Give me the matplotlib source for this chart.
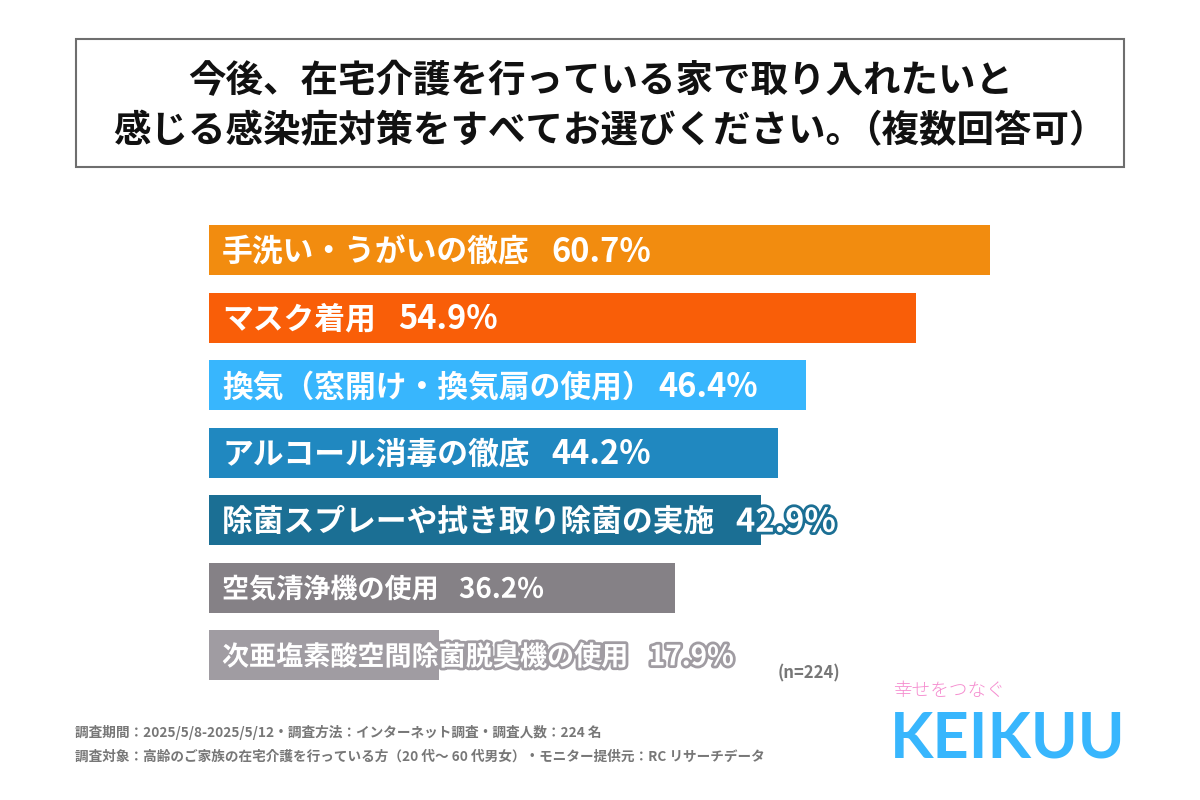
import matplotlib
matplotlib.use('Agg')
import matplotlib.pyplot as plt
import matplotlib.patheffects as pe
from matplotlib.patches import Rectangle

plt.rcParams['font.family'] = ['Noto Sans CJK JP', 'DejaVu Sans']

title_line1 = '今後、在宅介護を行っている家で取り入れたいと'
title_line2 = '感じる感染症対策をすべてお選びください。'
title_note = '（複数回答可）'
labels = ['手洗い・うがいの徹底', 'マスク着用', '換気（窓開け・換気扇の使用）', 'アルコール消毒の徹底',
          '除菌スプレーや拭き取り除菌の実施', '空気清浄機の使用', '次亜塩素酸空間除菌脱臭機の使用']
values = [60.7, 54.9, 46.4, 44.2, 42.9, 36.2, 17.9]
colors = ['#f28c0f', '#f95e08', '#38b6fd', '#2088c0', '#1b6f94', '#858186', '#a09ca2']
footer = ['調査期間：2025/5/8-2025/5/12・調査方法：インターネット調査・調査人数：224 名',
          '調査対象：高齢のご家族の在宅介護を行っている方（20 代～ 60 代男女）・モニター提供元：RC リサーチデータ']

fig = plt.figure(figsize=(12, 8), dpi=100)

# overlay in pixel coordinates for the box and the loose text
bg = fig.add_axes([0, 0, 1, 1], zorder=2)
bg.set_xlim(0, 1200)
bg.set_ylim(800, 0)
bg.axis('off')

bg.add_patch(Rectangle((76, 39), 1048, 128, fill=False, ec='#6e6e6e', lw=1.5))
title_kw = dict(ha='left', va='center', fontsize=27, fontweight='bold', color='#111111')
bg.text(188, 81, title_line1, **title_kw)
bg.text(113, 131, title_line2, **title_kw)
bg.text(844, 131, title_note, **title_kw)

# bar axes: 12.87 px per percent, starting at x=209
ax = fig.add_axes([209 / 1200, (800 - 689) / 800, 891 / 1200, (689 - 216.5) / 800], zorder=1)
ax.set_xlim(0, 891 / 12.87)
ax.set_ylim(6.5, -0.5)
ax.axis('off')
ax.barh(range(len(values)), values, height=0.74, color=colors)

fig.canvas.draw()
rend = fig.canvas.get_renderer()
for i, (lab, val, c) in enumerate(zip(labels, values, colors)):
    y = bg.transData.inverted().transform(ax.transData.transform((0, i)))[1] + 2
    stroke = [pe.withStroke(linewidth=4, foreground=c)] if i >= 4 else None
    # the two grey rows use a smaller size
    lab_size, val_size = (19.5, 20) if i >= 5 else (22.15, 23.5)
    t = bg.text(222, y, lab, ha='left', va='center', fontsize=lab_size, fontweight='bold', color='white',
                path_effects=stroke)
    x1 = bg.transData.inverted().transform((t.get_window_extent(rend).x1, 0))[0]
    gap = 6 if lab.endswith('）') else (20 if i >= 5 else 22)
    bg.text(x1 + gap, y, f'{val}%', ha='left', va='center', fontsize=val_size, fontweight='bold', color='white',
            path_effects=stroke)

bg.text(809, 673, '(n=224)', ha='center', va='center', fontsize=12, fontweight='bold', color='#777777')

bg.text(75, 732, footer[0], ha='left', va='center', fontsize=9.85, fontweight='bold', color='#777777')
bg.text(75, 757, footer[1], ha='left', va='center', fontsize=9.8, fontweight='bold', color='#777777')

bg.text(893, 691, '幸せをつなぐ', ha='left', va='center', fontsize=13.4, fontweight='light', color='#f58ccf')
bg.text(890, 739, 'KEIKUU', ha='left', va='center', fontsize=45.5, fontweight='bold', color='#38b6fd',
        family=['Lato', 'DejaVu Sans'])

fig.savefig('out.png', dpi=100)
